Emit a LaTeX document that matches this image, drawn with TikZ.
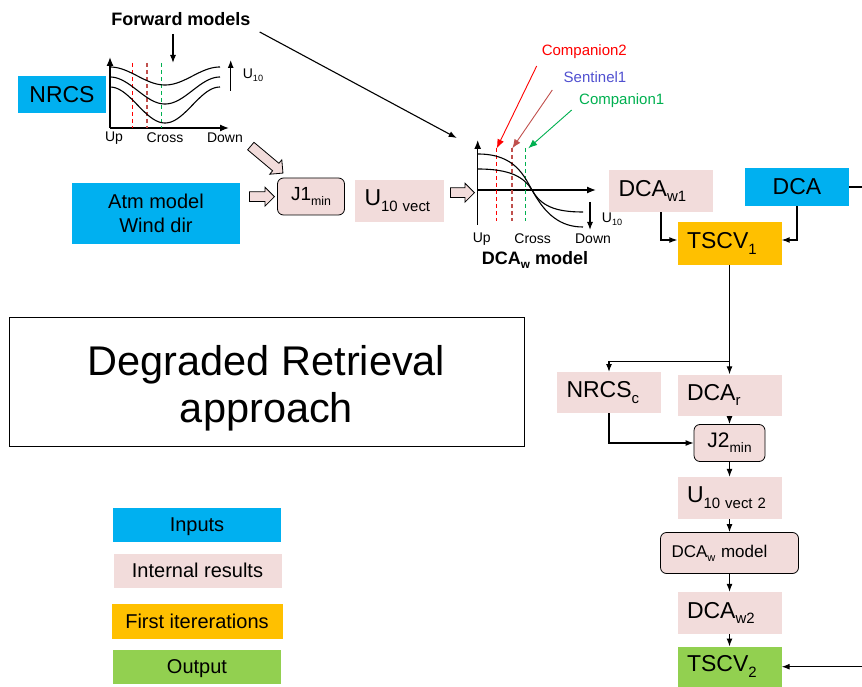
\documentclass[tikz,border=0pt]{standalone}
\usepackage{fontspec}
\setmainfont{Liberation Sans}
\usetikzlibrary{arrows.meta,shapes.arrows}

\definecolor{inblue}{HTML}{00B0F0}
\definecolor{respink}{HTML}{F2DCDB}
\definecolor{iterorange}{HTML}{FFC000}
\definecolor{outgreen}{HTML}{92D050}
\definecolor{satred}{HTML}{FF0000}
\definecolor{satbrown}{HTML}{C0504D}
\definecolor{satgreen}{HTML}{00B050}
\definecolor{satblue}{HTML}{5050D0}

\newcommand{\lo}[1]{\raisebox{-0.25em}{\scalebox{0.65}{#1}}}

\begin{document}
\begin{tikzpicture}[x=1pt, y=-1pt,
    big/.style={font=\fontsize{23}{27}\selectfont},
    lbl/.style={font=\fontsize{14}{16}\selectfont, inner sep=0pt},
    boldlbl/.style={font=\bfseries\fontsize{18}{21}\selectfont, inner sep=0pt},
    satlbl/.style={font=\fontsize{15}{18}\selectfont, inner sep=0pt},
    inbox/.style={fill=inblue, inner sep=0pt, align=center},
    resbox/.style={fill=respink, inner xsep=9.5pt, inner ysep=0pt, minimum height=42pt, text width=85pt, align=left, big},
    minbox/.style={draw, fill=respink, rounded corners=6pt, minimum height=37pt, inner sep=0pt, line width=0.8pt},
    legbox/.style={minimum width=168pt, minimum height=34pt, inner sep=0pt, text height=18pt, text depth=4.2pt, font=\fontsize{20}{24}\selectfont},
    fat/.style={single arrow, draw, fill=respink, inner sep=4.5pt, single arrow head extend=4.5pt, line width=0.8pt},
    line/.style={-{Latex[length=8pt,width=6pt]}, line width=1.1pt},
    satline/.style={-{Latex[length=9pt,width=7pt]}, line width=0.9pt},
    axis/.style={-{Latex[length=9pt,width=7pt]}, line width=1.3pt},
    curve/.style={line width=1.1pt},
    cutline/.style={dash pattern=on 4pt off 3pt, line width=1.1pt}
]
\useasboundingbox (0,0) rectangle (862,687);

% forward models graph
\node[boldlbl] (fwd) at (181,19) {Forward models};
\coordinate (fwdtip) at (173,63);
\draw[line] ([yshift=-8pt]fwd.south -| fwdtip) -- (fwdtip);
\draw[axis] (110,128) -- (110,57);
\draw[axis] (110,128) -- (229,128);
\draw[cutline, satred] (132.7,63) -- (132.7,128);
\draw[cutline, satbrown] (147,63) -- (147,128);
\draw[cutline, satgreen] (161.7,63) -- (161.7,128);
\foreach \m/\a in {76/9, 90.5/13.5, 105/18}
  \draw[curve, domain=0:110, samples=60] plot (\x+110, {\m-\a*cos(3.2727*\x)});
\draw[line] (230.7,91) -- (230.7,60);
\node[lbl] (u10a) at (253,75) {U\lo{10}};
\node[lbl] (up1) at (114,138) {Up};
\node[lbl] (cross1) at (165,138) {Cross};
\node[lbl] (down1) at (225,138) {Down};

\node[inbox, big, minimum width=88pt, minimum height=37pt, text height=20.7pt, text depth=4.8pt] (nrcs) at (62,94.5) {NRCS};
\node[inbox, font=\fontsize{20}{24}\selectfont, minimum width=168pt, minimum height=60pt] (atm) at (156,213.5) {Atm model\\Wind dir};

\node[fat, minimum height=25pt] (fa1) at (259.5,196.7) {};
\node[fat, minimum height=42pt, rotate=-40] (fa2) at (265,158) {};
\node[minbox, minimum width=67pt, font=\fontsize{19}{22}\selectfont] (j1) at (311,196.5) {J1\lo{min}};
\node[resbox, text width=70pt] (u10v) at (399.5,201) {U\lo{10 vect}};
\node[fat, minimum height=24pt] (fa3) at (460,192.7) {};

% DCAw model graph
\draw[axis] (477.7,225) -- (477.7,140);
\draw[axis] (477.7,190) -- (596,190);
\draw[cutline, satred] (496.7,148) -- (496.7,221);
\draw[cutline, satbrown] (512,148) -- (512,221);
\draw[cutline, satgreen] (525.7,148) -- (525.7,221);
\draw[curve] (478,154) .. controls (515,154) and (524,176) .. (532,190)
  .. controls (541,206) and (555,212) .. (583,212);
\draw[curve] (478,169) .. controls (510,169) and (524,177) .. (532,190)
  .. controls (545,214) and (560,227) .. (583,227);
\draw[line] (590,202) -- (590,230);
\node[lbl] (u10b) at (612,219) {U\lo{10}};
\node[lbl] (up2) at (481.7,239) {Up};
\node[lbl] (cross2) at (532.7,239) {Cross};
\node[lbl] (down2) at (593,239) {Down};
\node[boldlbl] (dcawlbl) at (535,260) {DCA\lo{w} model};

\coordinate (fwdtail) at ([shift={(9pt,-13pt)}]fwd.east);
\coordinate (fwdhead) at (456.7,138);
\draw[line] (fwdtail) -- (fwdhead);

\node[satlbl, text=satred] (comp2) at (584.3,51.7) {Companion2};
\node[satlbl, text=satblue] (sent1) at (595,76.7) {Sentinel1};
\node[satlbl, text=satgreen] (comp1) at (621.7,101) {Companion1};
\coordinate (c2tail) at (536.7,66);
\coordinate (c2tip) at (496.7,148.3);
\coordinate (s1tail) at (552.3,90);
\coordinate (s1tip) at (512.3,148.3);
\coordinate (c1tail) at (571.7,110);
\coordinate (c1tip) at (528.3,148.3);
\draw[satline, satred] (c2tail) -- (c2tip);
\draw[satline, satbrown] (s1tail) -- (s1tip);
\draw[satline, satgreen] (c1tail) -- (c1tip);

% retrieval chain
\node[resbox] (dcaw1) at (661,191) {DCA\lo{w1}};
\node[inbox, big, minimum width=104pt, minimum height=38pt, text height=20.7pt, text depth=4.8pt] (dca) at (797,187) {DCA};
\node[resbox, fill=iterorange] (tscv1) at (729.5,243.5) {TSCV\lo{1}};
\node[resbox, minimum height=41pt] (nrcsc) at (609,392.7) {NRCS\lo{c}};
\node[resbox, minimum height=41pt] (dcar) at (729.5,395) {DCA\lo{r}};
\node[minbox, minimum width=71pt, font=\fontsize{21}{24}\selectfont] (j2) at (729.5,443) {J2\lo{min}};
\node[resbox] (u10v2) at (729.5,498) {U\lo{10 vect 2}};
\node[minbox, minimum height=41pt, inner xsep=11pt, text width=116pt, align=left, font=\fontsize{17}{20}\selectfont] (dcawm) at (729.5,553) {DCA\lo{w} model};
\node[resbox] (dcaw2) at (729.5,613) {DCA\lo{w2}};
\node[resbox, fill=outgreen, minimum height=40pt] (tscv2) at (729.5,666.7) {TSCV\lo{2}};

\draw[line] (dcaw1) |- ([yshift=3.5pt]tscv1.west);
\draw[line] (dca) |- ([yshift=3.5pt]tscv1.east);
\coordinate (dcaout) at (862,187);
\draw[line width=1.1pt] (dca) -- (dcaout);
\draw[line] (tscv1) -- (dcar);
\coordinate (split) at (729.5,361.7);
\draw[line] (split) -| (nrcsc);
\draw[line] (nrcsc) |- (j2);
\draw[line] (dcar) -- (j2);
\draw[line] (j2) -- (u10v2);
\draw[line] (u10v2) -- (dcawm);
\draw[line] (dcawm) -- (dcaw2);
\draw[line] (dcaw2) -- (tscv2);
\coordinate (tscvin) at (862,666.7);
\draw[line] (tscvin) -- (tscv2);

\node[draw, line width=0.9pt, minimum width=515pt, minimum height=129pt, inner sep=0pt] (degr) at (266.5,381.5) {};
\node[align=center, font=\fontsize{41.5}{47}\selectfont, inner sep=0pt] (degrtxt) at (266.5,388) {Degraded Retrieval\\approach};

% legend
\node[legbox, fill=inblue] (leg1) at (197,524.5) {Inputs};
\node[legbox, fill=respink] (leg2) at (197.5,571) {Internal results};
\node[legbox, fill=iterorange, minimum width=171pt, minimum height=35pt] (leg3) at (197,621.5) {First itererations};
\node[legbox, fill=outgreen] (leg4) at (197,667) {Output};
\end{tikzpicture}
\end{document}
